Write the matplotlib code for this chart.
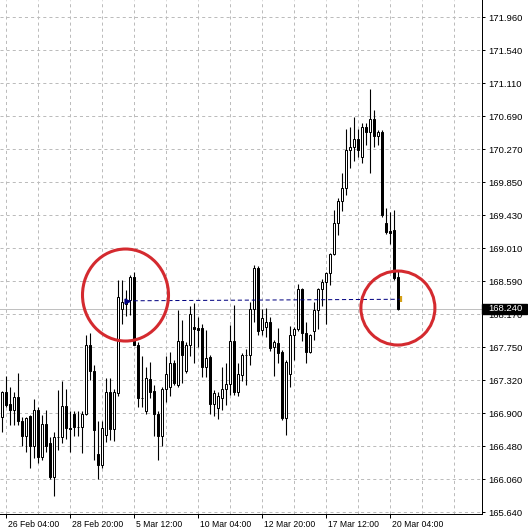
import numpy as np
import matplotlib.pyplot as plt
from matplotlib.patches import Ellipse, Rectangle

plt.rcParams['font.family'] = ['Liberation Sans', 'DejaVu Sans']
plt.rcParams['lines.scale_dashes'] = False

# H4 candles, first visible bar is 26 Feb 00:00 (index -1)
opens = [166.86, 167.18, 167.02, 166.94, 167.11, 166.81, 166.61, 166.87, 166.48, 166.95,
         166.35, 166.77, 166.52, 166.09, 166.60, 166.60, 167.00, 166.71, 166.90, 166.73,
         166.73, 166.90, 167.78, 167.44, 166.39, 166.25, 166.63, 167.18, 166.70, 167.16,
         168.23, 168.30, 168.35, 168.64, 167.78, 167.10, 166.93, 167.34, 167.19, 166.90,
         166.61, 167.22, 167.24, 167.54, 167.27, 167.83, 167.44, 167.78, 168.01, 167.99,
         167.99, 167.49, 167.62, 167.02, 166.97, 167.10, 167.21, 167.28, 167.83, 167.18,
         167.39, 167.65, 167.65, 168.24, 168.76, 167.97, 168.01, 168.07, 167.75, 167.80,
         167.69, 166.85, 167.41, 167.90, 167.98, 168.49, 167.93, 167.69, 167.95, 168.22,
         168.49, 168.58, 168.69, 168.94, 169.34, 169.61, 169.78, 170.26, 170.31, 170.40,
         170.18, 170.56, 170.50, 170.66, 170.44, 170.50, 169.34, 169.23, 169.24, 168.65]
highs = [167.19, 167.38, 167.24, 167.18, 167.42, 166.86, 166.86, 166.88, 167.09, 166.98,
         166.88, 166.95, 166.60, 166.67, 167.20, 167.32, 167.22, 166.93, 166.93, 166.93,
         166.93, 167.90, 167.93, 167.52, 166.80, 166.80, 167.35, 167.35, 167.22, 168.61,
         168.61, 168.48, 168.67, 168.71, 167.82, 167.63, 167.50, 167.56, 167.27, 166.93,
         167.24, 167.63, 167.69, 167.58, 168.22, 168.10, 167.82, 168.27, 168.31, 168.13,
         168.04, 167.97, 167.65, 167.20, 167.18, 167.50, 167.54, 168.03, 168.29, 167.54,
         167.67, 167.73, 168.33, 168.80, 168.78, 168.24, 168.25, 168.13, 167.84, 167.99,
         167.71, 167.58, 168.02, 168.01, 168.55, 168.50, 168.07, 167.92, 168.33, 168.50,
         168.62, 168.71, 168.95, 169.50, 169.65, 169.97, 170.54, 170.56, 170.69, 170.53,
         170.61, 170.61, 171.04, 170.78, 170.52, 170.52, 169.52, 169.48, 169.50, 168.73]
lows = [166.67, 166.98, 166.76, 166.76, 166.76, 166.48, 166.41, 166.20, 166.33, 166.27,
        166.31, 166.41, 166.07, 165.85, 166.44, 166.52, 166.58, 166.41, 166.61, 166.61,
        166.40, 166.88, 167.33, 166.31, 166.07, 166.20, 166.54, 166.56, 166.55, 167.12,
        168.05, 168.14, 168.16, 167.77, 166.99, 166.98, 166.90, 167.10, 166.61, 166.31,
        166.48, 167.05, 167.12, 167.27, 167.24, 167.29, 167.42, 167.63, 167.54, 167.75,
        167.37, 167.37, 166.90, 166.87, 166.83, 166.95, 167.01, 167.14, 167.14, 167.12,
        167.31, 167.27, 167.52, 168.07, 167.90, 167.90, 167.88, 167.70, 167.38, 167.54,
        166.82, 166.63, 167.24, 167.59, 167.95, 167.83, 167.55, 167.67, 167.84, 167.98,
        168.27, 168.05, 168.54, 168.93, 169.18, 169.49, 169.69, 170.04, 170.12, 170.18,
        170.10, 170.33, 169.97, 170.31, 170.33, 169.41, 169.19, 169.07, 168.61, 168.22]
closes = [167.18, 167.01, 166.94, 167.11, 166.80, 166.61, 166.85, 166.48, 166.95, 166.35,
          166.77, 166.48, 166.09, 166.60, 166.60, 167.00, 166.71, 166.70, 166.73, 166.73,
          166.90, 167.78, 167.44, 166.69, 166.24, 166.71, 167.18, 166.70, 167.18, 168.39,
          168.33, 168.35, 168.64, 167.78, 167.10, 167.10, 167.35, 167.18, 166.90, 166.61,
          167.22, 167.40, 167.54, 167.29, 167.83, 167.65, 167.78, 168.17, 167.98, 167.97,
          167.49, 167.61, 167.02, 167.16, 167.12, 167.21, 167.28, 167.83, 167.18, 167.41,
          167.65, 167.65, 168.24, 168.76, 167.96, 168.12, 168.07, 167.74, 167.81, 167.67,
          166.85, 167.56, 167.90, 167.98, 168.49, 167.93, 167.69, 167.90, 168.22, 168.49,
          168.58, 168.69, 168.94, 169.34, 169.61, 169.78, 170.26, 170.31, 170.40, 170.26,
          170.56, 170.50, 170.66, 170.44, 170.50, 169.44, 169.22, 169.21, 168.63, 168.24]

price_labels = ['165.640', '166.060', '166.480', '166.900', '167.320', '167.750', '168.170', '168.590',
                '169.010', '169.430', '169.850', '170.270', '170.690', '171.110', '171.540', '171.960']
time_labels = ['26 Feb 04:00', '28 Feb 20:00', '5 Mar 12:00', '10 Mar 04:00',
               '12 Mar 20:00', '17 Mar 12:00', '20 Mar 04:00']
time_label_bars = [0, 16, 32, 48, 64, 80, 96]
bid = 168.240
trend_start = (30.1, 168.34)
trend_end = (98.6, 168.36)

o = np.array(opens)
h = np.array(highs)
l = np.array(lows)
c = np.array(closes)
x = np.arange(len(o)) - 1
up = c >= o

PX = 0.72  # one pixel in points at dpi 100
fig = plt.figure(figsize=(5.28, 5.32), dpi=100)
ax = fig.add_axes([0, 18 / 532, 481.8 / 528, 514 / 532])
ax.set_xlim(-1.575, 118.875)
ax.set_ylim(165.618, 172.181)

grid_c = '#bcbcbc'
yt = 165.64 + 0.421333 * np.arange(len(price_labels))
for v in yt:
    ax.axhline(v, color=grid_c, lw=PX, dashes=(2.2, 2.2), zorder=1)
for v in range(0, 119, 8):
    ax.axvline(v, color=grid_c, lw=PX, dashes=(2.2, 2.2), zorder=1)

# bid line
ax.axhline(bid, color='#c0c0c0', lw=PX, zorder=2)

# candles
ax.vlines(x, l, h, color='black', lw=1.1 * PX, zorder=3)
bot = np.minimum(o, c)
hgt = np.abs(c - o)
ax.bar(x[up], hgt[up], bottom=bot[up], width=0.5, facecolor='white',
       edgecolor='black', lw=PX, zorder=4)
ax.bar(x[~up], hgt[~up], bottom=bot[~up], width=0.5, facecolor='black',
       edgecolor='black', lw=PX, zorder=4)

# trend line with arrows
ax.plot([trend_start[0], trend_end[0]], [trend_start[1], trend_end[1]],
        color='#000080', lw=PX, dashes=(3, 2), zorder=5)
ax.plot(trend_start[0], trend_start[1], marker='>', ms=3.5, color='#000080', zorder=6)
ax.plot(trend_end[0], trend_end[1], marker='|', ms=4, mew=1.6, color='#d4a017', zorder=6)

# red circles
ax.add_patch(Ellipse((29.8, 168.414), 21.5, 1.175, fill=False, ec='#d42a2f', lw=2.2, zorder=7))
ax.add_patch(Ellipse((97.9, 168.248), 18.5, 0.945, fill=False, ec='#d42a2f', lw=2.2, zorder=7))

for s in ['top', 'left']:
    ax.spines[s].set_visible(False)
for s in ['right', 'bottom']:
    ax.spines[s].set_linewidth(PX)

ax.yaxis.tick_right()
ax.set_yticks(yt, labels=price_labels)
ax.tick_params(axis='y', direction='out', length=2.2, width=PX, labelsize=6.8, pad=2.5)
ax.set_xticks(time_label_bars, labels=[''] * len(time_label_bars))
ax.tick_params(axis='x', direction='out', length=3, width=PX)
for b, t in zip(time_label_bars, time_labels):
    ax.annotate(t, xy=(b, 0), xycoords=('data', 'axes fraction'), xytext=(1, -7.3),
                textcoords='offset points', ha='left', va='center', fontsize=6.2,
                annotation_clip=False)

# current price label
ytr = ax.get_yaxis_transform()
ax.add_patch(Rectangle((1.0, bid - 5 * 0.012768), 45 / 481.8, 10 * 0.012768,
                       transform=ytr, color='black', clip_on=False, zorder=8))
ax.text(1 + 6 / 481.8, bid, '168.240', transform=ytr, color='white', va='center',
        fontsize=6.8, clip_on=False, zorder=9)

fig.savefig('out.png', dpi=100)
